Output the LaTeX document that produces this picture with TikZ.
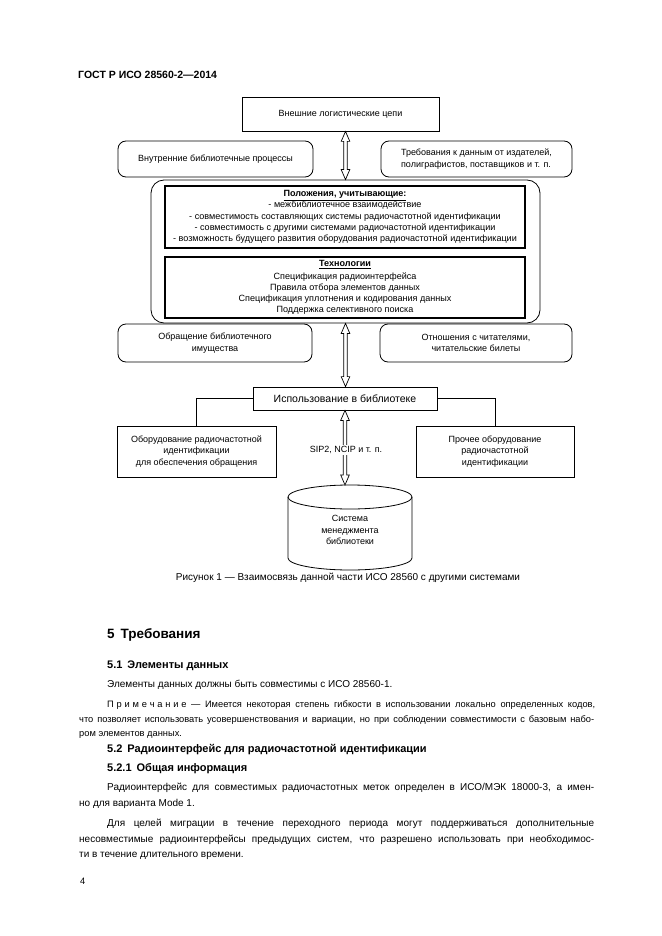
\documentclass[tikz,border=0pt]{standalone}
\usepackage{fontspec}
\setmainfont{Liberation Sans}
\usepackage{graphicx}
\usetikzlibrary{calc}
\newcommand\dfont{\fontsize{9}{11.5}\selectfont}
\newcommand\ifont{\fontsize{9.05}{11.2}\selectfont}
\newcommand\bfont{\fontsize{10}{12}\selectfont}
\newcommand\nfont{\fontsize{9.3}{11}\selectfont}
\newcommand\jl[2]{\sbox0{#2}\ifdim\wd0>#1\relax\resizebox{#1}{\ht0}{\usebox0}\else\makebox[#1][s]{#2}\fi}
\newcommand\lsp{\hspace{2.8pt}}
\newcommand\hollow[2]{%
  \draw[line width=0.7pt, fill=white] let \p1=(#1), \p2=(#2) in
  (\x1-1.8pt,\y1-10pt) -- (\x1-4.3pt,\y1-10pt) -- (\x1,\y1) -- (\x1+4.3pt,\y1-10pt) -- (\x1+1.8pt,\y1-10pt)
  -- (\x1+1.8pt,\y2+10pt) -- (\x1+4.3pt,\y2+10pt) -- (\x1,\y2) -- (\x1-4.3pt,\y2+10pt) -- (\x1-1.8pt,\y2+10pt) -- cycle;}
\tikzset{
  sqbox/.style={draw, line width=0.8pt, inner sep=0pt, align=center, font=\dfont},
  rbox/.style={draw, line width=0.8pt, rounded corners=8pt, inner sep=0pt, align=center, font=\dfont},
  inbox/.style={draw, line width=1.1pt, inner sep=0pt, align=center, font=\ifont},
  conn/.style={line width=0.7pt},
  txt/.style={anchor=base west, inner sep=0pt, font=\bfont},
  hd/.style={anchor=base west, inner sep=0pt, font=\fontsize{11}{13}\selectfont\bfseries},
}
\begin{document}
\begin{tikzpicture}[x=1pt,y=-1pt]
\useasboundingbox (0,0) rectangle (661,936);
\fill[white] (0,0) rectangle (661,936);

% header
\node[anchor=base west, inner sep=0pt, font=\fontsize{10.5}{12}\selectfont\bfseries] (hdr) at (78,79) {ГОСТ Р ИСО 28560-2—2014};

% diagram
\node[sqbox, minimum width=197, minimum height=34] (ext) at (340.5,114) {Внешние логистические цепи};
\node[rbox, minimum width=195, minimum height=36] (lproc) at (215.5,159) {Внутренние библиотечные процессы};
\node[rbox, minimum width=191, minimum height=36, align=left] (rreq) at (476.5,159) {Требования к данным от издателей,\\полиграфистов, поставщиков и т. п.};
\node[draw, line width=0.8pt, rounded corners=13pt, minimum width=389, minimum height=143, inner sep=0pt] (big) at (345.5,251.5) {};
\node[inbox, minimum width=360, minimum height=62] (pol) at (345,217) {\textbf{\underline{Положения, учитывающие:}}\\- межбиблиотечное взаимодействие\\- совместимость составляющих системы радиочастотной идентификации\\- совместимость с другими системами радиочастотной идентификации\\- возможность будущего развития оборудования радиочастотной идентификации};
\node[inbox, minimum width=360, minimum height=61] (tech) at (345,287.5) {\textbf{\underline{Технологии}}\\[1.5pt]Спецификация радиоинтерфейса\\Правила отбора элементов данных\\Спецификация уплотнения и кодирования данных\\Поддержка селективного поиска};
\node[rbox, minimum width=194, minimum height=38] (obr) at (215,343) {Обращение библиотечного\\имущества};
\node[rbox, minimum width=192, minimum height=38] (otn) at (476,343) {Отношения с читателями,\\читательские билеты};
\node[sqbox, minimum width=184, minimum height=23, font=\fontsize{10.5}{12}\selectfont] (use) at (345,398.5) {Использование в библиотеке};
\node[sqbox, minimum width=159, minimum height=51] (leq) at (196.5,451.5) {Оборудование радиочастотной\\идентификации\\для обеспечения обращения};
\node[sqbox, minimum width=158, minimum height=51] (req) at (495,451.5) {Прочее оборудование\\радиочастотной\\идентификации};

% cylinder
\draw[line width=0.8pt] (288,497) -- (288,558) arc[start angle=180, end angle=360, x radius=62pt, y radius=12pt] -- (412,497);
\draw[line width=0.8pt] (350,497) ellipse[x radius=62pt, y radius=12pt];
\node[inner sep=0pt, align=center, font=\dfont] (cyl) at (350,530) {Система\\менеджмента\\библиотеки};
\coordinate (cyltop) at (345,485);

% connectors
\draw[conn] (use.west) -| (leq.north);
\draw[conn] (use.east) -| (req.north);
\hollow{big.north |- ext.south}{big.north}
\hollow{big.south}{use.north}
\hollow{use.south}{cyltop}
\node[fill=white, inner sep=1pt, font=\dfont] (sip) at (346,450) {SIP2, NCIP и т. п.};

% caption
\node[inner sep=0pt, font=\fontsize{10}{12}\selectfont] (cap) at (348,578) {Рисунок 1 — Взаимосвязь данной части ИСО 28560 с другими системами};

% body text
\node[anchor=base west, inner sep=0pt, font=\fontsize{13.5}{15}\selectfont\bfseries] (s5) at (107,638) {5\hspace{6pt}Требования};
\node[hd] (s51) at (107,668) {5.1\hspace{5pt}Элементы данных};
\node[txt] (p51) at (107,687) {Элементы данных должны быть совместимы с ИСО 28560-1.};
\node[txt, font=\nfont] (n1) at (107,707) {\jl{488pt}{П\lsp р\lsp и\lsp м\lsp е\lsp ч\lsp а\lsp н\lsp и\lsp е — Имеется некоторая степень гибкости в использовании локально определенных кодов,}};
\node[txt, font=\nfont] (n2) at (79,722) {\jl{515pt}{что позволяет использовать усовершенствования и вариации, но при соблюдении совместимости с базовым набо-}};
\node[txt, font=\nfont] (n3) at (79,736) {ром элементов данных.};
\node[hd] (s52) at (107,752) {5.2\hspace{5pt}Радиоинтерфейс для радиочастотной идентификации};
\node[hd] (s521) at (107,771) {5.2.1\hspace{5pt}Общая информация};
\node[txt] (a1) at (107,790) {\jl{487pt}{Радиоинтерфейс для совместимых радиочастотных меток определен в ИСО/МЭК 18000-3, а имен-}};
\node[txt] (a2) at (79,806) {но для варианта Mode 1.};
\node[txt] (b1) at (107,826) {\jl{487pt}{Для целей миграции в течение переходного периода могут поддерживаться дополнительные}};
\node[txt] (b2) at (79,842) {\jl{515pt}{несовместимые радиоинтерфейсы предыдущих систем, что разрешено использовать при необходимос-}};
\node[txt] (b3) at (79,857) {ти в течение длительного времени.};
\node[txt, font=\nfont] (pg) at (80,884) {4};
\end{tikzpicture}
\end{document}
